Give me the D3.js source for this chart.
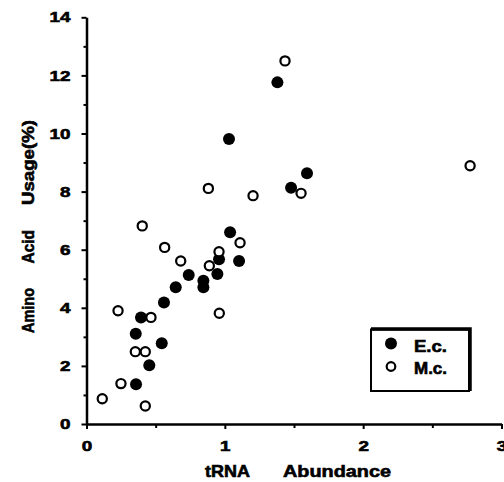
<!DOCTYPE html>
<html>
<head>
<meta charset="utf-8">
<script src="https://d3js.org/d3.v7.min.js"></script>
<style>
body { margin: 0; background: #fff; }
text { font-family: "Liberation Sans", Arial, sans-serif; font-weight: bold; fill: #000; stroke: #000; stroke-width: 0.6px; }
</style>
</head>
<body>
<script>
// E.c. (filled) points
var ecX = [1.38, 1.03, 1.594, 1.479, 1.038, 1.103, 0.958, 0.946, 0.845, 0.845, 0.739, 0.645, 0.56, 0.394, 0.356, 0.544, 0.454, 0.358];
var ecY = [11.76, 9.81, 8.63, 8.13, 6.6, 5.61, 5.67, 5.16, 4.93, 4.71, 5.13, 4.71, 4.18, 3.67, 3.11, 2.78, 2.02, 1.37];

// M.c. (open) points
var mcX = [0.114, 0.249, 0.425, 0.353, 0.425, 0.228, 0.466, 0.403, 0.565, 0.681, 0.888, 0.958, 1.11, 0.96, 1.435, 1.551, 0.881, 1.204, 2.773];
var mcY = [0.87, 1.39, 0.62, 2.49, 2.49, 3.9, 3.67, 6.82, 6.08, 5.61, 5.45, 5.93, 6.24, 3.81, 12.5, 7.94, 8.11, 7.86, 8.89];

var xTicks = [0, 1, 2, 3];
var xMinor = [0.5, 1.5, 2.5];
var yTicks = [0, 2, 4, 6, 8, 10, 12, 14];
var yMinor = [1, 3, 5, 7, 9, 11, 13];

var svg = d3.select("body").append("svg")
    .attr("width", 504)
    .attr("height", 482);

var x = d3.scaleLinear().domain([0, 3]).range([86.5, 501.5]);
var y = d3.scaleLinear().domain([0, 14]).range([424, 17.3]);

// minor ticks first
svg.append("g")
    .attr("transform", "translate(0,424)")
    .call(d3.axisBottom(x).tickValues(xMinor).tickSize(4).tickFormat(""))
    .call(g => g.select(".domain").remove())
    .selectAll("line").attr("stroke-width", 2);

svg.append("g")
    .attr("transform", "translate(86.5,0)")
    .call(d3.axisLeft(y).tickValues(yMinor).tickSize(3).tickFormat(""))
    .call(g => g.select(".domain").remove())
    .selectAll("line").attr("stroke-width", 2);

// major axes
var xAxis = svg.append("g")
    .attr("transform", "translate(0,424)")
    .call(d3.axisBottom(x).tickValues(xTicks).tickSize(5).tickSizeOuter(0).tickPadding(12).tickFormat(d3.format("d")));

var yAxis = svg.append("g")
    .attr("transform", "translate(86.5,0)")
    .call(d3.axisLeft(y).tickValues(yTicks).tickSize(5).tickSizeOuter(0).tickPadding(11).tickFormat(d3.format("d")));

[xAxis, yAxis].forEach(function(a) {
    a.select(".domain").attr("stroke-width", 2.5);
    a.selectAll("line").attr("stroke-width", 2);
    a.selectAll("text")
        .style("font-size", "14.5px")
        .attr("textLength", function(d) { return String(d).length * 10.5; })
        .attr("lengthAdjust", "spacingAndGlyphs");
});

// axis titles
svg.append("text").attr("x", 205).attr("y", 476.5)
    .style("font-size", "17px")
    .attr("textLength", 45).attr("lengthAdjust", "spacingAndGlyphs")
    .text("tRNA");
svg.append("text").attr("x", 283).attr("y", 476.5)
    .style("font-size", "17px")
    .attr("textLength", 108).attr("lengthAdjust", "spacingAndGlyphs")
    .text("Abundance");

var yTitle = svg.append("g").attr("transform", "rotate(-90)");
[["Amino", 333, 45], ["Acid", 263.5, 33.5], ["Usage(%)", 205, 85]].forEach(function(p) {
    yTitle.append("text")
        .attr("x", -p[1]).attr("y", 34)
        .style("font-size", "16.5px")
        .attr("textLength", p[2]).attr("lengthAdjust", "spacingAndGlyphs")
        .text(p[0]);
});

// points
var ecData = ecX.map(function(v, i) { return [v, ecY[i]]; });
var mcData = mcX.map(function(v, i) { return [v, mcY[i]]; });

svg.selectAll(".ec").data(ecData).enter().append("circle")
    .attr("class", "ec")
    .attr("cx", d => x(d[0]))
    .attr("cy", d => y(d[1]))
    .attr("r", 6)
    .style("fill", "#000");

svg.selectAll(".mc").data(mcData).enter().append("circle")
    .attr("class", "mc")
    .attr("cx", d => x(d[0]))
    .attr("cy", d => y(d[1]))
    .attr("r", 4.6)
    .style("fill", "#fff")
    .attr("stroke", "#000")
    .attr("stroke-width", 2.2);

// legend
var leg = svg.append("g");
leg.append("rect")
    .attr("x", 371).attr("y", 329.5)
    .attr("width", 98).attr("height", 61.5)
    .style("fill", "#fff")
    .attr("stroke", "#000")
    .attr("stroke-width", 2);
leg.append("path")
    .attr("d", "M371,329 L470,329 L470,391")
    .attr("fill", "none")
    .attr("stroke", "#000")
    .attr("stroke-width", 3.5);
leg.append("circle").attr("cx", 391).attr("cy", 343.5).attr("r", 6).style("fill", "#000");
leg.append("circle").attr("cx", 391).attr("cy", 366.5).attr("r", 4.3)
    .style("fill", "#fff").attr("stroke", "#000").attr("stroke-width", 2.2);
leg.append("text").attr("x", 414).attr("y", 351.5)
    .style("font-size", "16px")
    .attr("textLength", 33).attr("lengthAdjust", "spacingAndGlyphs")
    .text("E.c.");
leg.append("text").attr("x", 414).attr("y", 374)
    .style("font-size", "16px")
    .attr("textLength", 33).attr("lengthAdjust", "spacingAndGlyphs")
    .text("M.c.");
</script>
</body>
</html>
